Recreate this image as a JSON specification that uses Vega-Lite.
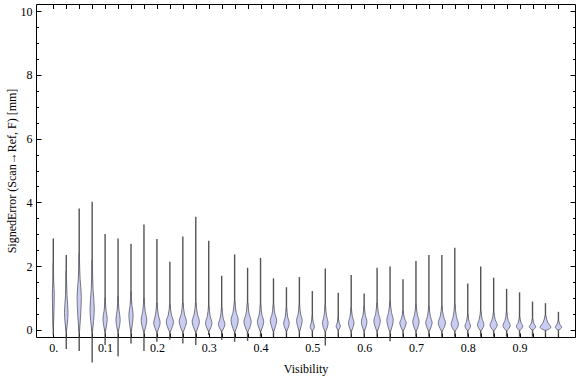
{
  "$schema": "https://vega.github.io/schema/vega-lite/v6.json",
  "width": 539,
  "height": 333,
  "autosize": "none",
  "padding": {"left": 36, "top": 4, "right": 1, "bottom": 40},
  "background": "white",
  "config": {
    "view": {"stroke": null},
    "font": "Liberation Serif",
    "axis": {
      "labelFont": "Liberation Serif",
      "titleFont": "Liberation Serif",
      "labelFontSize": 12,
      "titleFontSize": 12,
      "titleFontWeight": "normal",
      "labelColor": "#000",
      "titleColor": "#000",
      "domainColor": "#000",
      "tickColor": "#000",
      "grid": false
    }
  },
  "datasets": {
    "violins": [
      {"k": 0, "c": 0, "lo": -0.16, "hi": 2.87},
      {"k": 1, "c": 0.025, "lo": -0.6, "hi": 2.35},
      {"k": 2, "c": 0.05, "lo": -0.66, "hi": 3.81},
      {"k": 3, "c": 0.075, "lo": -1.02, "hi": 4.02},
      {"k": 4, "c": 0.1, "lo": -0.47, "hi": 3.01},
      {"k": 5, "c": 0.125, "lo": -0.82, "hi": 2.87},
      {"k": 6, "c": 0.15, "lo": -0.42, "hi": 2.7},
      {"k": 7, "c": 0.175, "lo": -0.66, "hi": 3.31},
      {"k": 8, "c": 0.2, "lo": -0.37, "hi": 2.85},
      {"k": 9, "c": 0.225, "lo": -0.31, "hi": 2.14},
      {"k": 10, "c": 0.25, "lo": -0.42, "hi": 2.93},
      {"k": 11, "c": 0.275, "lo": -0.47, "hi": 3.55},
      {"k": 12, "c": 0.3, "lo": -0.16, "hi": 2.8},
      {"k": 13, "c": 0.325, "lo": -0.31, "hi": 1.7},
      {"k": 14, "c": 0.35, "lo": -0.37, "hi": 2.37},
      {"k": 15, "c": 0.375, "lo": -0.34, "hi": 1.95},
      {"k": 16, "c": 0.4, "lo": -0.21, "hi": 2.26},
      {"k": 17, "c": 0.425, "lo": -0.21, "hi": 1.62},
      {"k": 18, "c": 0.45, "lo": -0.21, "hi": 1.34},
      {"k": 19, "c": 0.475, "lo": -0.21, "hi": 1.66},
      {"k": 20, "c": 0.5, "lo": -0.21, "hi": 1.22},
      {"k": 21, "c": 0.525, "lo": -0.49, "hi": 1.93},
      {"k": 22, "c": 0.55, "lo": -0.21, "hi": 1.17},
      {"k": 23, "c": 0.575, "lo": -0.24, "hi": 1.72},
      {"k": 24, "c": 0.6, "lo": -0.21, "hi": 1.14},
      {"k": 25, "c": 0.625, "lo": -0.21, "hi": 1.95},
      {"k": 26, "c": 0.65, "lo": -0.35, "hi": 1.99},
      {"k": 27, "c": 0.675, "lo": -0.21, "hi": 1.59},
      {"k": 28, "c": 0.7, "lo": -0.21, "hi": 2.16},
      {"k": 29, "c": 0.725, "lo": -0.21, "hi": 2.35},
      {"k": 30, "c": 0.75, "lo": -0.21, "hi": 2.35},
      {"k": 31, "c": 0.775, "lo": -0.21, "hi": 2.58},
      {"k": 32, "c": 0.8, "lo": -0.21, "hi": 1.46},
      {"k": 33, "c": 0.825, "lo": -0.21, "hi": 1.99},
      {"k": 34, "c": 0.85, "lo": -0.21, "hi": 1.64},
      {"k": 35, "c": 0.875, "lo": -0.21, "hi": 1.29},
      {"k": 36, "c": 0.9, "lo": -0.21, "hi": 1.18},
      {"k": 37, "c": 0.925, "lo": -0.21, "hi": 0.89},
      {"k": 38, "c": 0.95, "lo": -0.21, "hi": 0.84},
      {"k": 39, "c": 0.975, "lo": -0.21, "hi": 0.57}
    ],
    "shapes": [
      {"g": 0, "y": 0.1, "xl": -0.0003, "xr": 0.0003},
      {"g": 0, "y": 0.6, "xl": -0.0013, "xr": 0.0013},
      {"g": 0, "y": 1.1, "xl": -0.0019, "xr": 0.0019},
      {"g": 0, "y": 1.5, "xl": -0.0008, "xr": 0.0008},
      {"g": 0, "y": 2.1, "xl": -0.0002, "xr": 0.0002},
      {"g": 1, "y": -0.05, "xl": 0.0245, "xr": 0.0255},
      {"g": 1, "y": 0.25, "xl": 0.0226, "xr": 0.0274},
      {"g": 1, "y": 0.55, "xl": 0.0216, "xr": 0.0284},
      {"g": 1, "y": 1.07, "xl": 0.0235, "xr": 0.0265},
      {"g": 1, "y": 1.85, "xl": 0.0247, "xr": 0.0253},
      {"g": 2, "y": -0.05, "xl": 0.0494, "xr": 0.0506},
      {"g": 2, "y": 0.5, "xl": 0.0471, "xr": 0.0529},
      {"g": 2, "y": 1.05, "xl": 0.0459, "xr": 0.0541},
      {"g": 2, "y": 1.59, "xl": 0.0482, "xr": 0.0518},
      {"g": 2, "y": 2.4, "xl": 0.0497, "xr": 0.0503},
      {"g": 3, "y": -0.05, "xl": 0.0744, "xr": 0.0756},
      {"g": 3, "y": 0.3, "xl": 0.0721, "xr": 0.0779},
      {"g": 3, "y": 0.65, "xl": 0.0709, "xr": 0.0791},
      {"g": 3, "y": 1.27, "xl": 0.0732, "xr": 0.0768},
      {"g": 3, "y": 2.2, "xl": 0.0747, "xr": 0.0753},
      {"g": 4, "y": -0.05, "xl": 0.0994, "xr": 0.1006},
      {"g": 4, "y": 0.16, "xl": 0.0971, "xr": 0.1029},
      {"g": 4, "y": 0.36, "xl": 0.0959, "xr": 0.1041},
      {"g": 4, "y": 0.62, "xl": 0.0982, "xr": 0.1018},
      {"g": 4, "y": 1.0, "xl": 0.0997, "xr": 0.1003},
      {"g": 5, "y": -0.05, "xl": 0.1244, "xr": 0.1256},
      {"g": 5, "y": 0.14, "xl": 0.1221, "xr": 0.1279},
      {"g": 5, "y": 0.33, "xl": 0.1209, "xr": 0.1291},
      {"g": 5, "y": 0.62, "xl": 0.1232, "xr": 0.1268},
      {"g": 5, "y": 1.05, "xl": 0.1247, "xr": 0.1253},
      {"g": 6, "y": -0.05, "xl": 0.1494, "xr": 0.1506},
      {"g": 6, "y": 0.22, "xl": 0.1471, "xr": 0.1529},
      {"g": 6, "y": 0.48, "xl": 0.1459, "xr": 0.1541},
      {"g": 6, "y": 0.77, "xl": 0.1482, "xr": 0.1518},
      {"g": 6, "y": 1.2, "xl": 0.1497, "xr": 0.1503},
      {"g": 7, "y": -0.05, "xl": 0.1742, "xr": 0.1758},
      {"g": 7, "y": 0.13, "xl": 0.1712, "xr": 0.1788},
      {"g": 7, "y": 0.31, "xl": 0.1696, "xr": 0.1804},
      {"g": 7, "y": 0.59, "xl": 0.1726, "xr": 0.1774},
      {"g": 7, "y": 1.0, "xl": 0.1746, "xr": 0.1754},
      {"g": 8, "y": -0.05, "xl": 0.199, "xr": 0.201},
      {"g": 8, "y": 0.09, "xl": 0.1957, "xr": 0.2043},
      {"g": 8, "y": 0.22, "xl": 0.1938, "xr": 0.2062},
      {"g": 8, "y": 0.47, "xl": 0.1972, "xr": 0.2028},
      {"g": 8, "y": 0.85, "xl": 0.1995, "xr": 0.2005},
      {"g": 9, "y": -0.05, "xl": 0.224, "xr": 0.226},
      {"g": 9, "y": 0.11, "xl": 0.2201, "xr": 0.2299},
      {"g": 9, "y": 0.26, "xl": 0.218, "xr": 0.232},
      {"g": 9, "y": 0.47, "xl": 0.2219, "xr": 0.2281},
      {"g": 9, "y": 0.8, "xl": 0.2244, "xr": 0.2256},
      {"g": 10, "y": -0.05, "xl": 0.249, "xr": 0.251},
      {"g": 10, "y": 0.11, "xl": 0.2451, "xr": 0.2549},
      {"g": 10, "y": 0.26, "xl": 0.243, "xr": 0.257},
      {"g": 10, "y": 0.5, "xl": 0.2469, "xr": 0.2531},
      {"g": 10, "y": 0.85, "xl": 0.2494, "xr": 0.2506},
      {"g": 11, "y": -0.05, "xl": 0.274, "xr": 0.276},
      {"g": 11, "y": 0.11, "xl": 0.2701, "xr": 0.2799},
      {"g": 11, "y": 0.26, "xl": 0.268, "xr": 0.282},
      {"g": 11, "y": 0.5, "xl": 0.2719, "xr": 0.2781},
      {"g": 11, "y": 0.85, "xl": 0.2744, "xr": 0.2756},
      {"g": 12, "y": -0.03, "xl": 0.299, "xr": 0.301},
      {"g": 12, "y": 0.09, "xl": 0.2957, "xr": 0.3043},
      {"g": 12, "y": 0.21, "xl": 0.2938, "xr": 0.3062},
      {"g": 12, "y": 0.43, "xl": 0.2972, "xr": 0.3028},
      {"g": 12, "y": 0.75, "xl": 0.2995, "xr": 0.3005},
      {"g": 13, "y": -0.03, "xl": 0.324, "xr": 0.326},
      {"g": 13, "y": 0.07, "xl": 0.3207, "xr": 0.3293},
      {"g": 13, "y": 0.17, "xl": 0.3188, "xr": 0.3312},
      {"g": 13, "y": 0.38, "xl": 0.3222, "xr": 0.3278},
      {"g": 13, "y": 0.7, "xl": 0.3245, "xr": 0.3255},
      {"g": 14, "y": -0.05, "xl": 0.349, "xr": 0.351},
      {"g": 14, "y": 0.13, "xl": 0.3451, "xr": 0.3549},
      {"g": 14, "y": 0.31, "xl": 0.343, "xr": 0.357},
      {"g": 14, "y": 0.55, "xl": 0.3469, "xr": 0.3531},
      {"g": 14, "y": 0.9, "xl": 0.3494, "xr": 0.3506},
      {"g": 15, "y": -0.05, "xl": 0.374, "xr": 0.376},
      {"g": 15, "y": 0.11, "xl": 0.3701, "xr": 0.3799},
      {"g": 15, "y": 0.26, "xl": 0.368, "xr": 0.382},
      {"g": 15, "y": 0.5, "xl": 0.3719, "xr": 0.3781},
      {"g": 15, "y": 0.85, "xl": 0.3744, "xr": 0.3756},
      {"g": 16, "y": -0.03, "xl": 0.399, "xr": 0.401},
      {"g": 16, "y": 0.12, "xl": 0.3957, "xr": 0.4043},
      {"g": 16, "y": 0.26, "xl": 0.3938, "xr": 0.4062},
      {"g": 16, "y": 0.47, "xl": 0.3972, "xr": 0.4028},
      {"g": 16, "y": 0.8, "xl": 0.3995, "xr": 0.4005},
      {"g": 17, "y": -0.03, "xl": 0.424, "xr": 0.426},
      {"g": 17, "y": 0.14, "xl": 0.4207, "xr": 0.4293},
      {"g": 17, "y": 0.3, "xl": 0.4188, "xr": 0.4312},
      {"g": 17, "y": 0.5, "xl": 0.4222, "xr": 0.4278},
      {"g": 17, "y": 0.8, "xl": 0.4245, "xr": 0.4255},
      {"g": 18, "y": -0.03, "xl": 0.4492, "xr": 0.4508},
      {"g": 18, "y": 0.09, "xl": 0.4462, "xr": 0.4538},
      {"g": 18, "y": 0.21, "xl": 0.4446, "xr": 0.4554},
      {"g": 18, "y": 0.41, "xl": 0.4476, "xr": 0.4524},
      {"g": 18, "y": 0.7, "xl": 0.4496, "xr": 0.4504},
      {"g": 19, "y": -0.03, "xl": 0.4742, "xr": 0.4758},
      {"g": 19, "y": 0.14, "xl": 0.4712, "xr": 0.4788},
      {"g": 19, "y": 0.3, "xl": 0.4696, "xr": 0.4804},
      {"g": 19, "y": 0.5, "xl": 0.4726, "xr": 0.4774},
      {"g": 19, "y": 0.8, "xl": 0.4746, "xr": 0.4754},
      {"g": 20, "y": -0.02, "xl": 0.4994, "xr": 0.5006},
      {"g": 20, "y": 0.04, "xl": 0.4971, "xr": 0.5029},
      {"g": 20, "y": 0.1, "xl": 0.4959, "xr": 0.5041},
      {"g": 20, "y": 0.24, "xl": 0.4982, "xr": 0.5018},
      {"g": 20, "y": 0.45, "xl": 0.4997, "xr": 0.5003},
      {"g": 21, "y": -0.05, "xl": 0.5242, "xr": 0.5258},
      {"g": 21, "y": 0.08, "xl": 0.5212, "xr": 0.5288},
      {"g": 21, "y": 0.21, "xl": 0.5196, "xr": 0.5304},
      {"g": 21, "y": 0.45, "xl": 0.5226, "xr": 0.5274},
      {"g": 21, "y": 0.8, "xl": 0.5246, "xr": 0.5254},
      {"g": 22, "y": 0.0, "xl": 0.5494, "xr": 0.5506},
      {"g": 22, "y": 0.06, "xl": 0.5471, "xr": 0.5529},
      {"g": 22, "y": 0.12, "xl": 0.5459, "xr": 0.5541},
      {"g": 22, "y": 0.23, "xl": 0.5482, "xr": 0.5518},
      {"g": 22, "y": 0.4, "xl": 0.5497, "xr": 0.5503},
      {"g": 23, "y": -0.03, "xl": 0.5742, "xr": 0.5758},
      {"g": 23, "y": 0.1, "xl": 0.5712, "xr": 0.5788},
      {"g": 23, "y": 0.22, "xl": 0.5696, "xr": 0.5804},
      {"g": 23, "y": 0.41, "xl": 0.5726, "xr": 0.5774},
      {"g": 23, "y": 0.7, "xl": 0.5746, "xr": 0.5754},
      {"g": 24, "y": -0.03, "xl": 0.5992, "xr": 0.6008},
      {"g": 24, "y": 0.12, "xl": 0.5962, "xr": 0.6038},
      {"g": 24, "y": 0.26, "xl": 0.5946, "xr": 0.6054},
      {"g": 24, "y": 0.46, "xl": 0.5976, "xr": 0.6024},
      {"g": 24, "y": 0.75, "xl": 0.5996, "xr": 0.6004},
      {"g": 25, "y": -0.03, "xl": 0.624, "xr": 0.626},
      {"g": 25, "y": 0.13, "xl": 0.6207, "xr": 0.6293},
      {"g": 25, "y": 0.28, "xl": 0.6188, "xr": 0.6312},
      {"g": 25, "y": 0.51, "xl": 0.6222, "xr": 0.6278},
      {"g": 25, "y": 0.85, "xl": 0.6245, "xr": 0.6255},
      {"g": 26, "y": -0.05, "xl": 0.649, "xr": 0.651},
      {"g": 26, "y": 0.13, "xl": 0.6457, "xr": 0.6543},
      {"g": 26, "y": 0.31, "xl": 0.6438, "xr": 0.6562},
      {"g": 26, "y": 0.55, "xl": 0.6472, "xr": 0.6528},
      {"g": 26, "y": 0.9, "xl": 0.6495, "xr": 0.6505},
      {"g": 27, "y": -0.02, "xl": 0.674, "xr": 0.676},
      {"g": 27, "y": 0.1, "xl": 0.6707, "xr": 0.6793},
      {"g": 27, "y": 0.22, "xl": 0.6688, "xr": 0.6812},
      {"g": 27, "y": 0.37, "xl": 0.6722, "xr": 0.6778},
      {"g": 27, "y": 0.6, "xl": 0.6745, "xr": 0.6755},
      {"g": 28, "y": -0.03, "xl": 0.699, "xr": 0.701},
      {"g": 28, "y": 0.12, "xl": 0.6957, "xr": 0.7043},
      {"g": 28, "y": 0.26, "xl": 0.6938, "xr": 0.7062},
      {"g": 28, "y": 0.47, "xl": 0.6972, "xr": 0.7028},
      {"g": 28, "y": 0.8, "xl": 0.6995, "xr": 0.7005},
      {"g": 29, "y": -0.03, "xl": 0.724, "xr": 0.726},
      {"g": 29, "y": 0.1, "xl": 0.7207, "xr": 0.7293},
      {"g": 29, "y": 0.22, "xl": 0.7188, "xr": 0.7312},
      {"g": 29, "y": 0.43, "xl": 0.7222, "xr": 0.7278},
      {"g": 29, "y": 0.75, "xl": 0.7245, "xr": 0.7255},
      {"g": 30, "y": -0.03, "xl": 0.749, "xr": 0.751},
      {"g": 30, "y": 0.1, "xl": 0.7451, "xr": 0.7549},
      {"g": 30, "y": 0.22, "xl": 0.743, "xr": 0.757},
      {"g": 30, "y": 0.43, "xl": 0.7469, "xr": 0.7531},
      {"g": 30, "y": 0.75, "xl": 0.7494, "xr": 0.7506},
      {"g": 31, "y": -0.03, "xl": 0.774, "xr": 0.776},
      {"g": 31, "y": 0.07, "xl": 0.7701, "xr": 0.7799},
      {"g": 31, "y": 0.17, "xl": 0.768, "xr": 0.782},
      {"g": 31, "y": 0.42, "xl": 0.7719, "xr": 0.7781},
      {"g": 31, "y": 0.8, "xl": 0.7744, "xr": 0.7756},
      {"g": 32, "y": -0.02, "xl": 0.7992, "xr": 0.8008},
      {"g": 32, "y": 0.05, "xl": 0.7962, "xr": 0.8038},
      {"g": 32, "y": 0.12, "xl": 0.7946, "xr": 0.8054},
      {"g": 32, "y": 0.27, "xl": 0.7976, "xr": 0.8024},
      {"g": 32, "y": 0.5, "xl": 0.7996, "xr": 0.8004},
      {"g": 33, "y": -0.02, "xl": 0.824, "xr": 0.826},
      {"g": 33, "y": 0.07, "xl": 0.8207, "xr": 0.8293},
      {"g": 33, "y": 0.16, "xl": 0.8188, "xr": 0.8312},
      {"g": 33, "y": 0.34, "xl": 0.8222, "xr": 0.8278},
      {"g": 33, "y": 0.6, "xl": 0.8245, "xr": 0.8255},
      {"g": 34, "y": -0.02, "xl": 0.849, "xr": 0.851},
      {"g": 34, "y": 0.07, "xl": 0.8451, "xr": 0.8549},
      {"g": 34, "y": 0.16, "xl": 0.843, "xr": 0.857},
      {"g": 34, "y": 0.32, "xl": 0.8469, "xr": 0.8531},
      {"g": 34, "y": 0.55, "xl": 0.8494, "xr": 0.8506},
      {"g": 35, "y": -0.02, "xl": 0.874, "xr": 0.876},
      {"g": 35, "y": 0.06, "xl": 0.8701, "xr": 0.8799},
      {"g": 35, "y": 0.14, "xl": 0.868, "xr": 0.882},
      {"g": 35, "y": 0.3, "xl": 0.8719, "xr": 0.8781},
      {"g": 35, "y": 0.55, "xl": 0.8744, "xr": 0.8756},
      {"g": 36, "y": -0.01, "xl": 0.899, "xr": 0.901},
      {"g": 36, "y": 0.05, "xl": 0.8957, "xr": 0.9043},
      {"g": 36, "y": 0.12, "xl": 0.8938, "xr": 0.9062},
      {"g": 36, "y": 0.23, "xl": 0.8972, "xr": 0.9028},
      {"g": 36, "y": 0.4, "xl": 0.8995, "xr": 0.9005},
      {"g": 37, "y": 0.0, "xl": 0.924, "xr": 0.926},
      {"g": 37, "y": 0.05, "xl": 0.9207, "xr": 0.9293},
      {"g": 37, "y": 0.1, "xl": 0.9188, "xr": 0.9312},
      {"g": 37, "y": 0.2, "xl": 0.9222, "xr": 0.9278},
      {"g": 37, "y": 0.35, "xl": 0.9245, "xr": 0.9255},
      {"g": 38, "y": -0.01, "xl": 0.9485, "xr": 0.9515},
      {"g": 38, "y": 0.035, "xl": 0.9427, "xr": 0.9573},
      {"g": 38, "y": 0.08, "xl": 0.9396, "xr": 0.9604},
      {"g": 38, "y": 0.23, "xl": 0.9453, "xr": 0.9547},
      {"g": 38, "y": 0.45, "xl": 0.9492, "xr": 0.9508},
      {"g": 39, "y": 0.0, "xl": 0.974, "xr": 0.976},
      {"g": 39, "y": 0.04, "xl": 0.9707, "xr": 0.9793},
      {"g": 39, "y": 0.08, "xl": 0.9688, "xr": 0.9812},
      {"g": 39, "y": 0.18, "xl": 0.9722, "xr": 0.9778},
      {"g": 39, "y": 0.3, "xl": 0.9745, "xr": 0.9755}
    ]
  },
  "layer": [
    {
      "data": {"name": "violins"},
      "mark": {"type": "rule", "color": "#404040", "strokeWidth": 1.4, "opacity": 0.9},
      "encoding": {
        "x": {
          "field": "c",
          "type": "quantitative",
          "scale": {"domain": [-0.0334, 1.007], "nice": false, "zero": false},
          "axis": {
            "orient": "bottom",
            "title": "Visibility",
            "values": [0, 0.025, 0.05, 0.075, 0.1, 0.125, 0.15, 0.175, 0.2, 0.225, 0.25, 0.275, 0.3, 0.325, 0.35, 0.375, 0.4, 0.425, 0.45, 0.475, 0.5, 0.525, 0.55, 0.575, 0.6, 0.625, 0.65, 0.675, 0.7, 0.725, 0.75, 0.775, 0.8, 0.825, 0.85, 0.875, 0.9, 0.925, 0.95, 0.975],
            "labelExpr": "indexof([0,0.1,0.2,0.3,0.4,0.5,0.6,0.7,0.8,0.9], datum.value) >= 0 ? (datum.value == 0 ? '0.' : format(datum.value, '.1f')) : ''",
            "tickSize": -4,
            "labelPadding": 9,
            "titlePadding": 10,
            "labelFlush": false,
            "labelOverlap": false
          }
        },
        "y": {
          "field": "lo",
          "type": "quantitative",
          "scale": {"domain": [-0.22, 10.22], "nice": false, "zero": false},
          "axis": {
            "orient": "left",
            "title": "SignedError (Scan→Ref, F) [mm]",
            "values": [0, 0.5, 1, 1.5, 2, 2.5, 3, 3.5, 4, 4.5, 5, 5.5, 6, 6.5, 7, 7.5, 8, 8.5, 9, 9.5, 10],
            "labelExpr": "datum.value % 2 == 0 ? format(datum.value, 'd') : ''",
            "tickSize": {"condition": {"test": "datum.value % 2 == 0", "value": -5}, "value": -2.5},
            "labelPadding": 9,
            "titlePadding": 2,
            "labelFlush": false,
            "labelOverlap": false
          }
        },
        "y2": {"field": "hi"}
      }
    },
    {
      "data": {"name": "shapes"},
      "mark": {"type": "area", "orient": "horizontal", "interpolate": "monotone", "fill": "#c9cdf3", "stroke": "#5a5a66", "strokeWidth": 0.8},
      "encoding": {
        "x": {
          "field": "xl",
          "type": "quantitative",
          "stack": null,
          "axis": {
            "orient": "top",
            "title": null,
            "labels": false,
            "values": [0, 0.025, 0.05, 0.075, 0.1, 0.125, 0.15, 0.175, 0.2, 0.225, 0.25, 0.275, 0.3, 0.325, 0.35, 0.375, 0.4, 0.425, 0.45, 0.475, 0.5, 0.525, 0.55, 0.575, 0.6, 0.625, 0.65, 0.675, 0.7, 0.725, 0.75, 0.775, 0.8, 0.825, 0.85, 0.875, 0.9, 0.925, 0.95, 0.975],
            "tickSize": -4.5
          }
        },
        "x2": {"field": "xr"},
        "y": {
          "field": "y",
          "type": "quantitative",
          "axis": {
            "orient": "right",
            "title": null,
            "labels": false,
            "values": [0, 0.5, 1, 1.5, 2, 2.5, 3, 3.5, 4, 4.5, 5, 5.5, 6, 6.5, 7, 7.5, 8, 8.5, 9, 9.5, 10],
            "tickSize": {"condition": {"test": "datum.value % 2 == 0", "value": -5}, "value": -2.5}
          }
        },
        "detail": {"field": "g", "type": "nominal"}
      }
    }
  ]
}
